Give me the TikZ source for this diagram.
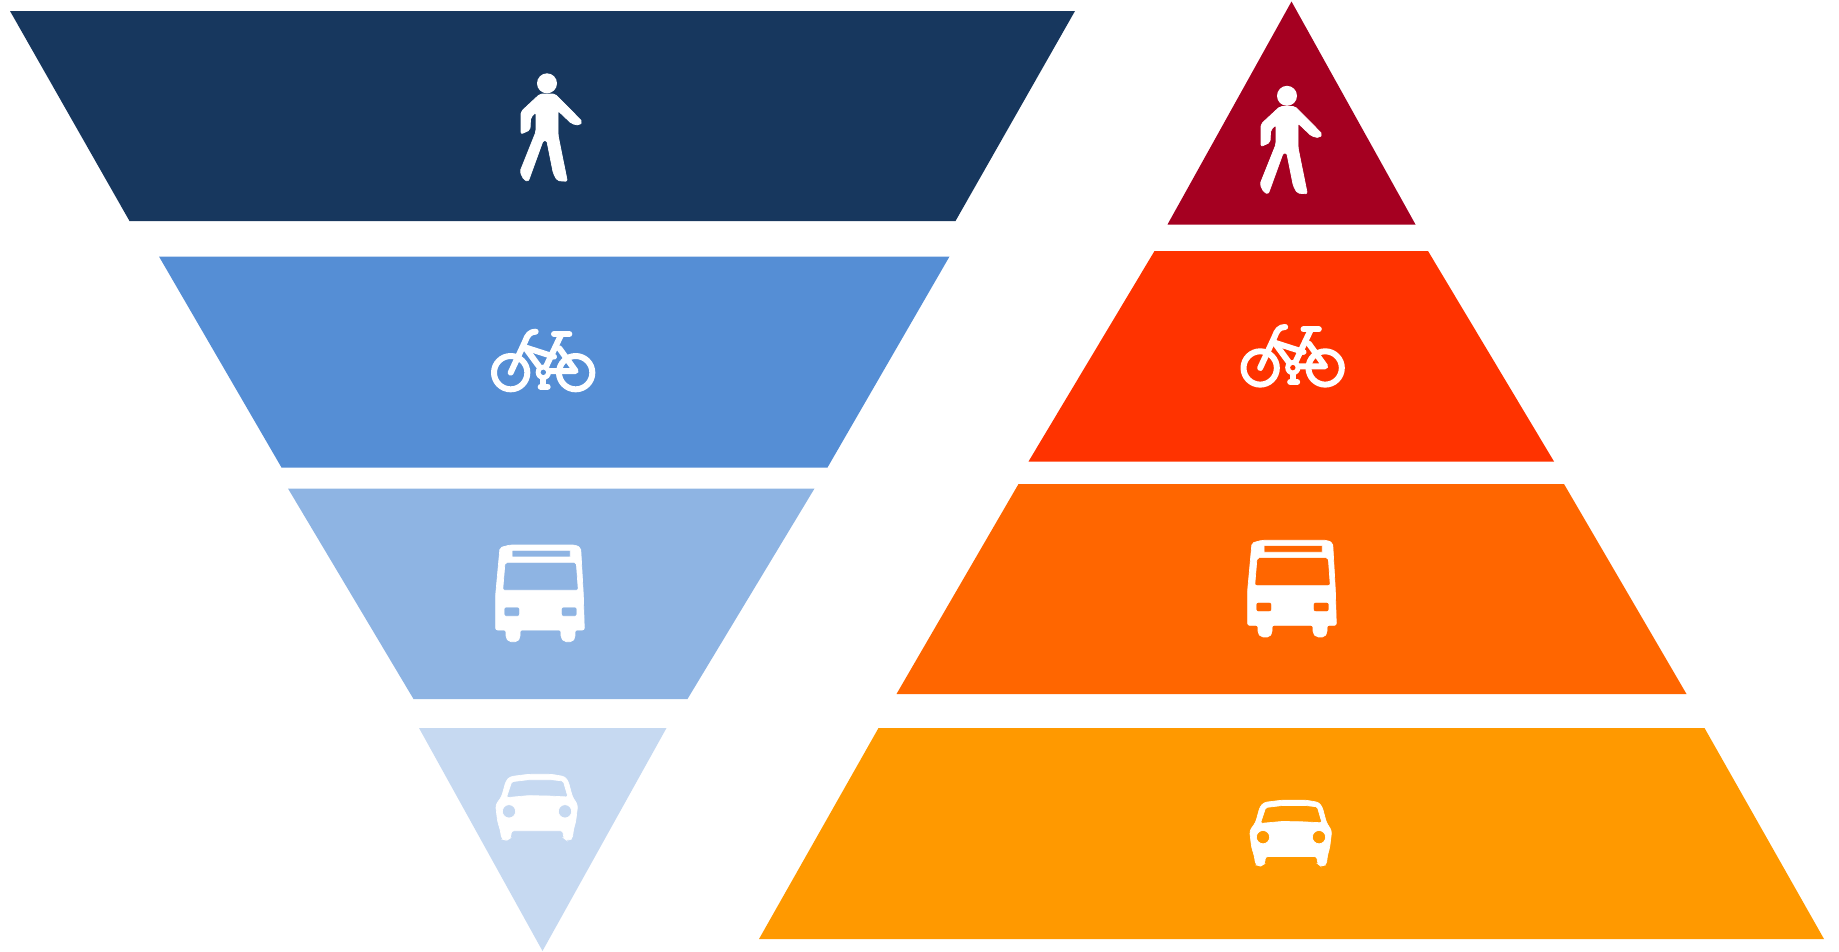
\documentclass[tikz,border=0pt]{standalone}
\definecolor{lnavy}{HTML}{17375E}
\definecolor{lblue}{HTML}{558ED5}
\definecolor{lsky}{HTML}{8EB4E3}
\definecolor{lpale}{HTML}{C6D9F1}
\definecolor{rcrim}{HTML}{A50021}
\definecolor{rred}{HTML}{FF3300}
\definecolor{rorange}{HTML}{FF6600}
\definecolor{ramber}{HTML}{FF9900}
\tikzset{
  band/.style={fill=#1,draw=none},
  iconfill/.style={fill=white,draw=white,line width=0.7pt,even odd rule,rounded corners=#1},
  iconfill/.default=2pt,
  iconline/.style={draw=white,line width=6pt,line cap=round,line join=round,fill=none},
}
\newcommand{\iconwalker}[1]{%
 \begin{scope}[shift={#1},x=0.3333pt,y=-0.3333pt]
  \fill[white] (141,70) circle[radius=30];
  \fill[iconfill] (120,102) -- (165,102) -- (247,185) -- (238,196) -- (215,191) -- (174,152) -- (174,225) -- (202,364) -- (172,362) -- (160,340) -- (140,240) -- (130,240) -- (85,364) -- (72,360) -- (60,335) -- (108,215) -- (108,157) -- (92,172) -- (90,210) -- (63,222) -- (63,155) -- cycle;
 \end{scope}}
\newcommand{\iconbike}[2]{%
 \begin{scope}[shift={#1},x=0.3333pt,y=-0.3333pt]
  \draw[iconline] (92,158) circle[radius=50];
  \draw[iconline] (287,158) circle[radius=50];
  \draw[iconline] (92,158) -- (135,65) .. controls (142,45) and (150,35) .. (167,35);
  \draw[iconline] (222,42) -- (268,42);
  \draw[iconline] (243,45) -- (190,157);
  \draw[iconline] (135,82) -- (222,110);
  \draw[iconline] (135,82) -- (190,157);
  \draw[iconline] (238,85) -- (287,153) -- (210,153);
  \fill[white] (190,157) circle[radius=23];
  \draw[iconline] (190,157) -- (190,198);
  \draw[iconline] (182,200) -- (203,200);
  \fill[#2] (190,157) circle[radius=8];
 \end{scope}}
\newcommand{\iconbus}[1]{%
 \begin{scope}[shift={#1},x=0.3333pt,y=-0.3333pt]
  \fill[iconfill] (45,38) -- (75,30) -- (270,30) -- (287,38) -- (295,180) -- (298,285) -- (270,285) -- (270,308) -- (262,320) -- (238,320) -- (228,308) -- (228,285) -- (105,285) -- (105,308) -- (97,320) -- (72,320) -- (63,308) -- (63,285) -- (32,285) -- (32,180) -- cycle
   [sharp corners] (81,46) -- (256,46) -- (256,66) -- (81,66) -- cycle
   [rounded corners=2pt] (60,82) -- (274,82) -- (280,166) -- (53,166) -- cycle
   (57,216) -- (104,216) -- (104,244) -- (57,244) -- cycle
   (229,216) -- (276,216) -- (276,244) -- (229,244) -- cycle;
 \end{scope}}
\newcommand{\iconcar}[1]{%
 \begin{scope}[shift={#1},x=0.3333pt,y=-0.3333pt]
  \fill[iconfill=3pt] (63,48) -- (75,35) -- (130,28) -- (200,28) -- (240,35) -- (250,50) -- (262,95) -- (278,120) -- (272,170) -- (265,195) -- (262,222) -- (245,226) -- (235,218) -- (235,197) -- (78,197) -- (78,218) -- (65,226) -- (50,222) -- (46,195) -- (38,170) -- (32,120) -- (50,95) -- cycle
   [rounded corners=1.5pt] (80,50) -- (130,44) -- (200,44) -- (235,48) -- (249,96) -- (190,93) -- (130,92) -- (64,98) -- cycle
   [sharp corners] (72,139) circle[radius=20] (240,139) circle[radius=20];
 \end{scope}}
\begin{document}
\begin{tikzpicture}[x=1pt,y=-1pt]
\useasboundingbox (0,0) rectangle (1839,951);
% inverted pyramid
\fill[band=lnavy] (10,11) -- (1075,11) -- (955.5,221) -- (129.5,221) -- cycle;
\fill[band=lblue] (159,256.5) -- (949.5,256.5) -- (827.5,467.5) -- (281.5,467.5) -- cycle;
\fill[band=lsky] (288,488.5) -- (814.5,488.5) -- (687.5,699) -- (413.5,699) -- cycle;
\fill[band=lpale] (419,728) -- (666.5,728) -- (542.5,951) -- cycle;
% pyramid
\fill[band=rcrim] (1291.5,1.5) -- (1415.5,224.5) -- (1167.5,224.5) -- cycle;
\fill[band=rred] (1154.5,251) -- (1428,251) -- (1554,461.5) -- (1028.5,461.5) -- cycle;
\fill[band=rorange] (1018.5,484) -- (1564,484) -- (1686.5,694) -- (896.5,694) -- cycle;
\fill[band=ramber] (878.5,728) -- (1704.5,728) -- (1824,939) -- (759,939) -- cycle;
% icons
\iconwalker{(500,60)}
\iconwalker{(1240,72.5)}
\iconbike{(480,320)}{lblue}
\iconbike{(1229.5,315.3)}{rred}
\iconbus{(485,535)}
\iconbus{(1237,530.3)}
\iconcar{(485,765)}
\iconcar{(1239,790.8)}
\end{tikzpicture}
\end{document}
